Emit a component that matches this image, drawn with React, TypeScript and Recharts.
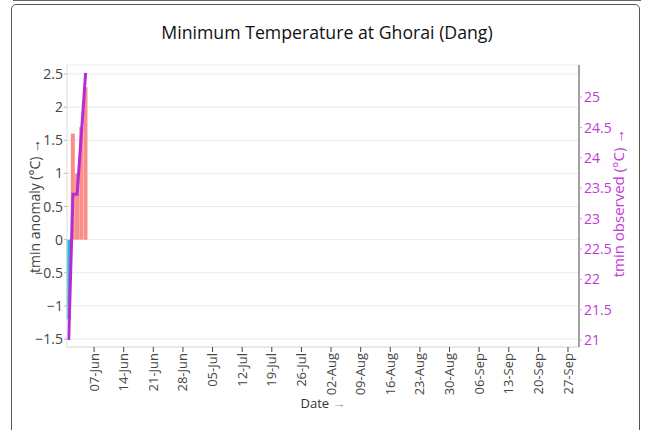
import { ComposedChart, Bar, Line, XAxis, YAxis, CartesianGrid, Cell, Label } from 'recharts';

// daily values (only the first days of the season are in)
const dates = ['2024-06-01', '2024-06-02', '2024-06-03', '2024-06-04', '2024-06-05'];
const anomaly = [-1.2, 1.6, 1.0, 1.7, 2.3];
const observed = [21.0, 23.4, 23.4, 24.4, 25.4];

const xTickLabels = [
  '07-Jun', '14-Jun', '21-Jun', '28-Jun', '05-Jul', '12-Jul', '19-Jul', '26-Jul',
  '02-Aug', '09-Aug', '16-Aug', '23-Aug', '30-Aug', '06-Sep', '13-Sep', '20-Sep', '27-Sep',
];
const anomalyTicks = [-1.5, -1, -0.5, 0, 0.5, 1, 1.5, 2, 2.5];
const observedTicks = [21, 21.5, 22, 22.5, 23, 23.5, 24, 24.5, 25];

const MONTHS = ['Jan', 'Feb', 'Mar', 'Apr', 'May', 'Jun', 'Jul', 'Aug', 'Sep', 'Oct', 'Nov', 'Dec'];
const START = Date.UTC(2024, 5, 1);
const DAY = 86400000;
const dayOf = (iso: string) => Math.round((Date.parse(iso) - START) / DAY);
const labelDay = (lbl: string) => {
  const [d, m] = lbl.split('-');
  return Math.round((Date.UTC(2024, MONTHS.indexOf(m), Number(d)) - START) / DAY);
};
const xTicks = xTickLabels.map(labelDay);
const labelByDay: Record<number, string> = {};
xTickLabels.forEach((l, i) => (labelByDay[xTicks[i]] = l));

const data = dates.map((d, i) => ({ day: dayOf(d), anomaly: anomaly[i], observed: observed[i] }));

const FONT = '"Open Sans", "Noto Sans", sans-serif';
const MAGENTA = '#c23ad6';
const fmtNum = (v: number) => String(v).replace('-', '\u2212');

const XTick = (props: any) => {
  const { x, y, payload } = props;
  return (
    <text
      x={x}
      y={y}
      transform={`rotate(-90, ${x}, ${y})`}
      textAnchor="end"
      dy="0.35em"
      fontSize={13}
      fontFamily={FONT}
      fill="#444"
    >
      {labelByDay[payload.value]}
    </text>
  );
};

export default function App() {
  return (
    <div style={{ position: 'absolute', left: 0, top: 0, width: 648, height: 430, background: '#fff', overflow: 'hidden' }}>
      <div style={{ position: 'absolute', left: 13, top: 0, width: 628, height: 1, background: '#666' }} />
      <div
        style={{
          position: 'absolute', left: 11, top: 4, width: 629, height: 440,
          border: '1px solid #555', borderRadius: 5, boxSizing: 'border-box',
        }}
      />
      <div
        style={{
          position: 'absolute', left: 0, top: 20, width: 654, textAlign: 'center',
          fontFamily: FONT, fontSize: 17.7, fontWeight: 500, color: '#111',
        }}
      >
        Minimum Temperature at Ghorai (Dang)
      </div>
      <div style={{ position: 'absolute', left: 0, top: 0 }}>
        <ComposedChart
          width={648}
          height={430}
          data={data}
          margin={{ top: 65, right: 19, bottom: 23, left: 17 }}
          barGap={0}
        >
          <CartesianGrid yAxisId="left" vertical={false} stroke="#ebebeb" />
          <XAxis
            xAxisId="top"
            orientation="top"
            dataKey="day"
            type="number"
            domain={[-0.4, 120.6]}
            height={0}
            tick={false}
            tickLine={false}
            axisLine={{ stroke: '#dcdcdc' }}
          />
          <XAxis
            dataKey="day"
            type="number"
            domain={[-0.4, 120.6]}
            ticks={xTicks}
            interval={0}
            height={60}
            tickSize={5}
            tickMargin={1}
            tickLine={{ stroke: '#444' }}
            axisLine={{ stroke: '#dcdcdc' }}
            tick={<XTick />}
          >
            <Label
              content={(p: any) => (
                <text
                  x={p.viewBox.x + p.viewBox.width / 2}
                  y={408}
                  textAnchor="middle"
                  fontSize={13}
                  fontFamily={FONT}
                  fill="#333"
                >
                  Date <tspan fill="#999">→</tspan>
                </text>
              )}
            />
          </XAxis>
          <YAxis
            yAxisId="left"
            width={50}
            domain={[-1.62, 2.636]}
            ticks={anomalyTicks}
            interval={0}
            tickFormatter={fmtNum}
            tickSize={3}
            tickMargin={1}
            tickLine={{ stroke: '#bbb' }}
            axisLine={{ stroke: '#dcdcdc' }}
            tick={{ fontSize: 14, fontFamily: FONT, fill: '#444' }}
          >
            <Label
              content={(p: any) => {
                const cx = p.viewBox.x + 23;
                const cy = p.viewBox.y + p.viewBox.height / 2;
                return (
                  <text
                    x={cx}
                    y={cy}
                    transform={`rotate(-90, ${cx}, ${cy})`}
                    textAnchor="middle"
                    fontSize={14}
                    fontFamily={FONT}
                    fill="#444"
                  >
                    tmin anomaly (°C) →
                  </text>
                );
              }}
            />
          </YAxis>
          <YAxis
            yAxisId="right"
            orientation="right"
            width={50}
            domain={[20.885, 25.53]}
            ticks={observedTicks}
            interval={0}
            tickSize={3}
            tickMargin={2}
            tickLine={{ stroke: '#d89be4' }}
            axisLine={{ stroke: '#444' }}
            tick={{ fontSize: 14, fontFamily: FONT, fill: MAGENTA }}
          >
            <Label
              content={(p: any) => {
                const cx = p.viewBox.x + 45;
                const cy = p.viewBox.y + p.viewBox.height / 2 - 3;
                return (
                  <text
                    x={cx}
                    y={cy}
                    transform={`rotate(-90, ${cx}, ${cy})`}
                    textAnchor="middle"
                    fontSize={15}
                    fontFamily={FONT}
                    fill={MAGENTA}
                  >
                    tmin observed (°C) →
                  </text>
                );
              }}
            />
          </YAxis>
          <Bar yAxisId="left" dataKey="anomaly" barSize={4} isAnimationActive={false}>
            {data.map((d, i) => (
              <Cell key={i} fill={d.anomaly < 0 ? '#2bb8d6' : '#f98e88'} />
            ))}
          </Bar>
          <Line
            yAxisId="right"
            dataKey="observed"
            type="linear"
            stroke="#b52bd8"
            strokeWidth={3}
            dot={false}
            isAnimationActive={false}
          />
        </ComposedChart>
      </div>
    </div>
  );
}
